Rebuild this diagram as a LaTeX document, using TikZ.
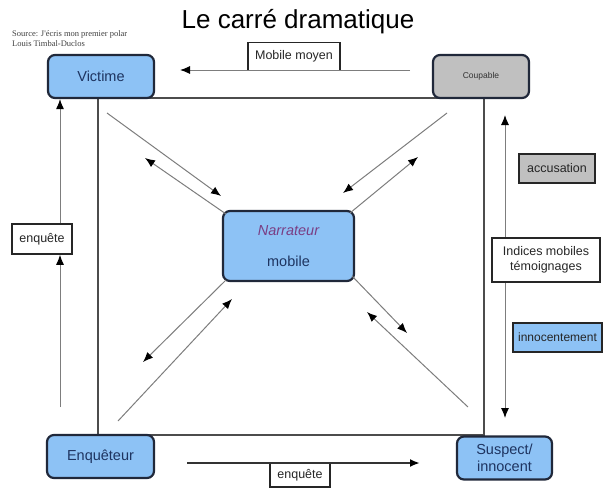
\documentclass[tikz,border=0pt]{standalone}
\usepackage{fontspec}
\setmainfont{Liberation Sans}
\newfontfamily\srcfont{Liberation Serif}
\usetikzlibrary{arrows.meta}
\definecolor{boxblue}{RGB}{141,194,245}
\definecolor{boxgray}{RGB}{192,192,192}
\definecolor{edgedark}{RGB}{32,40,58}
\definecolor{textnavy}{RGB}{30,52,96}
\definecolor{narrpurple}{RGB}{122,62,132}
\definecolor{linegray}{RGB}{125,125,125}
\begin{document}
\begin{tikzpicture}[x=1pt,y=-1pt,
    >={Latex[length=10pt,width=8pt,color=black]},
    role/.style={draw=edgedark, line width=2.2pt, rounded corners=7pt, fill=boxblue,
        text=textnavy, font=\fontsize{14.5}{17}\selectfont, align=center, inner sep=0pt},
    tag/.style={draw=black!85, line width=1.6pt, fill=white, text=black!85,
        font=\fontsize{12.5}{14.5}\selectfont, align=center, inner sep=0pt},
    sqline/.style={draw=black!70, line width=2pt},
    flow/.style={draw=linegray, line width=1pt, ->},
    ]
    \useasboundingbox (0,0) rectangle (603,493);
    \coordinate (ctl) at (98,98);
    \coordinate (ctr) at (484,98);
    \coordinate (cbr) at (484,435);
    \coordinate (cbl) at (98,435);
    \draw [sqline] (ctl) -- (ctr) -- (cbr) -- (cbl) -- cycle;

    \node (title) at (298,22) {\fontsize{26}{30}\selectfont Le carré dramatique};
    \node (source) [anchor=west, align=left, inner sep=0pt, text=black!75,
        font=\srcfont\fontsize{8.5}{10}\selectfont] at (12,39)
        {Source: J'écris mon premier polar\\Louis Timbal-Duclos};

    \node (victime) [role, minimum width=106pt, minimum height=43pt] at (101,76.5) {Victime};
    \node (coupable) [role, fill=boxgray, text=black!80, font=\fontsize{8.5}{10}\selectfont,
        minimum width=96pt, minimum height=43pt] at (481,76.5) {Coupable};
    \node (enqueteur) [role, minimum width=107pt, minimum height=43pt] at (100.5,456.5) {Enquêteur};
    \node (suspect) [role, minimum width=95pt, minimum height=43pt] at (504.5,458) {Suspect/\\innocent};
    \node (narrateur) [role, minimum width=131pt, minimum height=70pt] at (288.5,246)
        {\textit{\color{narrpurple}Narrateur}\\[14pt]mobile};

    \node (mobmoyen) [tag, minimum width=92pt, minimum height=28pt] at (294,56.5) {Mobile moyen};
    \node (enqgauche) [tag, minimum width=60pt, minimum height=30pt] at (42,239) {enquête};
    \node (enqbas) [tag, minimum width=60pt, minimum height=24pt] at (300,475) {enquête};
    \node (accusation) [tag, fill=boxgray, minimum width=76pt, minimum height=29pt] at (557,168.5) {accusation};
    \node (innocent) [tag, fill=boxblue, font=\fontsize{12}{14}\selectfont,
        minimum width=89pt, minimum height=29pt] at (557.5,337.5) {innocentement};

    \coordinate (mmA) at (410,70);
    \coordinate (mmB) at (180,70);
    \draw [flow] (mmA) -- (mmB);
    \coordinate (ebA) at (187,463);
    \coordinate (ebB) at (420,463);
    \draw [flow, draw=black!80, line width=2pt] (ebA) -- (ebB);

    \coordinate (egA) at (60,407);
    \draw [flow] (egA) -- (egA |- enqgauche.south);
    \draw [flow] (enqgauche.north -| egA) -- (egA |- victime.south);

    \coordinate (idA) at (505,115);
    \coordinate (idB) at (505,418);
    \draw [flow, <->] (idA) -- (idB);
    \node (indices) [tag, minimum width=108pt, minimum height=44pt] at (546,260) {Indices mobiles\\témoignages};

    \coordinate (tlA) at (107,113);
    \coordinate (tlB) at (221,196);
    \coordinate (tlC) at (226,214);
    \coordinate (tlD) at (145,158);
    \draw [flow] (tlA) -- (tlB);
    \draw [flow] (tlC) -- (tlD);
    \coordinate (trA) at (447,113);
    \coordinate (trB) at (343,193);
    \coordinate (trC) at (350,213);
    \coordinate (trD) at (418,157);
    \draw [flow] (trA) -- (trB);
    \draw [flow] (trC) -- (trD);
    \coordinate (blA) at (226,280);
    \coordinate (blB) at (143,362);
    \coordinate (blC) at (118,421);
    \coordinate (blD) at (232,299);
    \draw [flow] (blA) -- (blB);
    \draw [flow] (blC) -- (blD);
    \coordinate (brA) at (352,276);
    \coordinate (brB) at (407,333);
    \coordinate (brC) at (468,407);
    \coordinate (brD) at (367,312);
    \draw [flow] (brA) -- (brB);
    \draw [flow] (brC) -- (brD);
\end{tikzpicture}
\end{document}
